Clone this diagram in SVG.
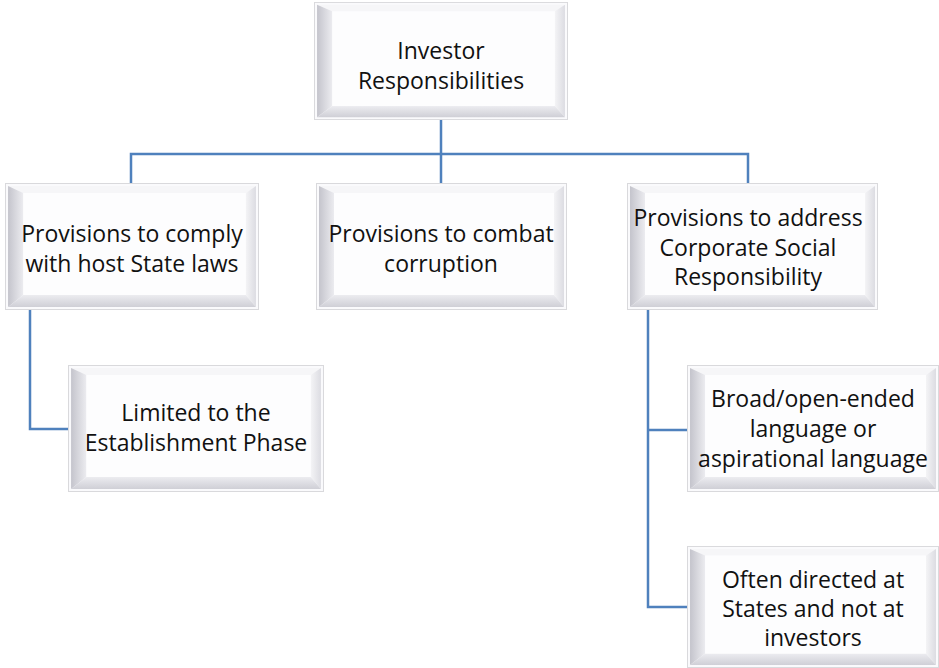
<svg xmlns="http://www.w3.org/2000/svg" width="939" height="668" viewBox="0 0 939 668">
<style>
text{font-family:"Open Sans","Liberation Sans",sans-serif;font-size:23px;fill:#111;text-anchor:middle}
.c{fill:none;stroke:#4f81bd;stroke-width:2.5}
</style>
<defs>
<linearGradient id="gl" x1="0" y1="0" x2="1" y2="0"><stop offset="0" stop-color="#c4c4cc"/><stop offset="1" stop-color="#ececf0"/></linearGradient>
<linearGradient id="gb" x1="0" y1="0" x2="0" y2="1"><stop offset="0" stop-color="#ececf0"/><stop offset="1" stop-color="#cfcfd6"/></linearGradient>
<linearGradient id="gr" x1="0" y1="0" x2="1" y2="0"><stop offset="0" stop-color="#f4f4f6"/><stop offset="1" stop-color="#dcdce2"/></linearGradient>
<symbol id="bev" viewBox="0 0 250 127" preserveAspectRatio="none">
<rect x="0.5" y="0.5" width="249" height="126" fill="#fafafc" stroke="#d9d9dc"/>
<polygon points="3,3 247,3 237,10 18,10" fill="#f6f6f8"/>
<polygon points="3,3 18,10 18,112 3,124" fill="url(#gl)"/>
<polygon points="247,3 247,124 237,112 237,10" fill="url(#gr)"/>
<polygon points="3,124 18,112 237,112 247,124" fill="url(#gb)"/>
<rect x="18" y="10" width="219" height="102" fill="#fdfdfe"/>
</symbol>
</defs>
<g id="connectors">
<path class="c" d="M441,120V154M131,183V154H748V183M441,154V183"/>
<path class="c" d="M30,310V429H68"/>
<path class="c" d="M648,310V607H687M648,430H687"/>
</g>
<g id="n0"><use href="#bev" x="314" y="2" width="254" height="118"/><text x="441" y="59">Investor</text><text x="441" y="89">Responsibilities</text></g>
<g id="n1"><use href="#bev" x="5" y="183" width="254" height="127"/><text x="132" y="242">Provisions to comply</text><text x="132" y="272">with host State laws</text></g>
<g id="n2"><use href="#bev" x="316" y="183" width="251" height="127"/><text x="441" y="242">Provisions to combat</text><text x="441" y="272">corruption</text></g>
<g id="n3"><use href="#bev" x="627" y="183" width="251" height="127"/><text x="748" y="226">Provisions to address</text><text x="748" y="256">Corporate Social</text><text x="748" y="285">Responsibility</text></g>
<g id="n4"><use href="#bev" x="68" y="365" width="256" height="127"/><text x="196" y="421">Limited to the</text><text x="196" y="451">Establishment Phase</text></g>
<g id="n5"><use href="#bev" x="687" y="365" width="252" height="127"/><text x="813" y="407">Broad/open-ended</text><text x="813" y="437">language or</text><text x="813" y="467">aspirational language</text></g>
<g id="n6"><use href="#bev" x="687" y="546" width="252" height="122"/><text x="813" y="588">Often directed at</text><text x="813" y="617">States and not at</text><text x="813" y="646">investors</text></g>
</svg>
